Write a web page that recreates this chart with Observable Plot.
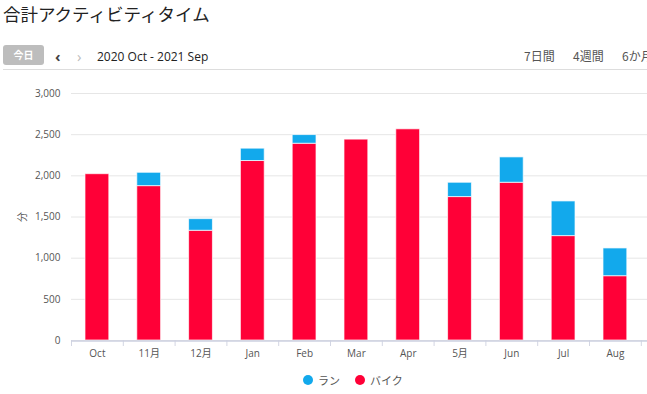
<!DOCTYPE html>
<html>
<head>
<meta charset="utf-8">
<script src="https://cdn.jsdelivr.net/npm/d3@7"></script>
<script src="https://cdn.jsdelivr.net/npm/@observablehq/plot@0.6"></script>
<style>
  html, body { margin: 0; padding: 0; background: #fff; overflow: hidden; width: 647px; height: 394px; }
  body { position: relative; font-family: "Open Sans", "Noto Sans CJK JP", sans-serif; color: #333; }
  .abs { position: absolute; white-space: nowrap; }
  #title { left: 3px; top: 1px; font-size: 17.5px; color: #222; font-family: "Noto Sans CJK JP", sans-serif; font-weight: 400; }
  #today { left: 3px; top: 45px; width: 41px; height: 20px; background: #bdbdbd; border-radius: 3px; color: #fff; font-size: 10px; font-weight: bold; text-align: center; line-height: 20px; font-family: "Noto Sans CJK JP", sans-serif; }
  #prev { left: 55px; top: 46px; font-size: 15px; color: #444; font-weight: bold; }
  #next { left: 77px; top: 46px; font-size: 15px; color: #bbb; }
  #range { left: 97px; top: 48px; font-size: 12px; color: #222; }
  .period { top: 47px; font-size: 12px; color: #555; font-family: "Noto Sans CJK JP", sans-serif; }
  #hr { left: 3px; top: 69px; width: 660px; height: 1px; background: #ddd; }
  #chart { left: 0px; top: 80px; }
  #chart svg { max-width: none !important; }
  #legend { left: 0; top: 372px; width: 647px; font-size: 11px; color: #555; font-family: "Noto Sans CJK JP", sans-serif; }
  .sw { position: absolute; top: 3px; width: 10px; height: 10px; border-radius: 50%; }
  .lt { position: absolute; top: 0px; }
</style>
</head>
<body>
<div id="title" class="abs">合計アクティビティタイム</div>
<div id="today" class="abs">今日</div>
<div id="prev" class="abs">‹</div>
<div id="next" class="abs">›</div>
<div id="range" class="abs">2020 Oct - 2021 Sep</div>
<div class="abs period" style="left:524px">7日間</div>
<div class="abs period" style="left:573px">4週間</div>
<div class="abs period" style="left:622px">6か月</div>
<div id="hr" class="abs"></div>
<div id="chart" class="abs"></div>
<div id="legend" class="abs">
  <div class="sw" style="left:303px;background:#12a9ec"></div><div class="lt" style="left:318px">ラン</div>
  <div class="sw" style="left:355px;background:#ff0037"></div><div class="lt" style="left:370px">バイク</div>
</div>
<script>
const months = ["Oct","11月","12月","Jan","Feb","Mar","Apr","5月","Jun","Jul","Aug","Sep"];
const bike = [2020, 1875, 1333, 2180, 2390, 2440, 2565, 1742, 1916, 1268, 781, null];
const run  = [0, 162, 141, 150, 105, 0, 0, 174, 308, 421, 337, null];
const seriesNames = ["バイク", "ラン"];
const seriesColors = ["#ff0037", "#12a9ec"];
const yTicks = [0, 500, 1000, 1500, 2000, 2500, 3000];

const rows = [];
months.forEach((m, i) => {
  if (bike[i] != null) rows.push({month: m, series: seriesNames[0], value: bike[i]});
  if (run[i] != null && run[i] > 0) rows.push({month: m, series: seriesNames[1], value: run[i]});
});

const W = 700, ML = 71, MR = 7.4;
const step = (W - ML - MR) / months.length;

const chart = Plot.plot({
  width: W,
  height: 290,
  marginTop: 13,
  marginBottom: 30,
  marginLeft: ML,
  marginRight: MR,
  style: {fontFamily: "'Open Sans', 'Noto Sans CJK JP', sans-serif", fontSize: "10px", color: "#555", background: "transparent", maxWidth: "none"},
  x: {domain: months, paddingInner: 0.54, paddingOuter: 0.27, round: false, label: null},
  y: {domain: [0, 3000], label: null},
  color: {domain: seriesNames, range: seriesColors},
  marks: [
    Plot.gridY(yTicks, {stroke: "#e6e6e6", strokeOpacity: 1}),
    Plot.axisY({ticks: yTicks, tickSize: 0, tickPadding: 11, tickFormat: d3.format(","), label: "分", labelArrow: "none", labelAnchor: "center", labelOffset: 53, fontSize: 10}),
    Plot.axisX({tickSize: 0, tickPadding: 9, fontSize: 10}),
    Plot.axisX({tickSize: 6, text: null, label: null, dx: -step / 2, stroke: "#d3d6e3", strokeOpacity: 1}),
    Plot.barY(rows, Plot.stackY({order: seriesNames}, {x: "month", y: "value", fill: "series", stroke: "#fff", strokeOpacity: 0.7, strokeWidth: 1})),
    Plot.ruleY([0], {stroke: "#cdd1e0", strokeWidth: 1.5, dy: 0.5})
  ]
});
document.getElementById("chart").appendChild(chart);
</script>
</body>
</html>
